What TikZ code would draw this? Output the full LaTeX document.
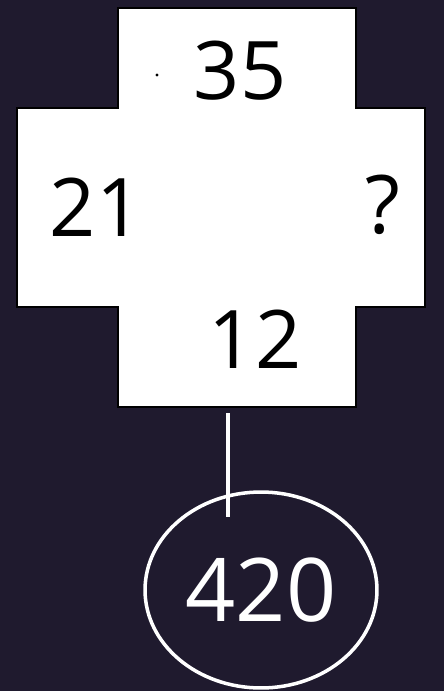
\documentclass[tikz,border=0pt]{standalone}
\usepackage{fontspec}
\setmainfont{Open Sans}
\definecolor{boardbg}{RGB}{31,26,46}
\usetikzlibrary{shapes.geometric, positioning}
\tikzset{
	crossboard/.style={draw=black, fill=white, line width=1.2pt},
	digit/.style={font=\fontsize{46}{50}\selectfont, text=black, inner sep=0pt},
	answer/.style={ellipse, draw=white, line width=2pt, minimum width=4.64cm, minimum height=3.92cm, font=\fontsize{50}{54}\selectfont, text=white},
	link/.style={draw=white, line width=2pt},
}

\begin{document}
\begin{tikzpicture}[x=0.02cm, y=-0.02cm]
		\fill[boardbg] (0,0) rectangle (444,691);
		\useasboundingbox (0,0) rectangle (444,691);
		% the cross
		\draw[crossboard] (118,8) -- (356,8) -- (356,108) -- (425,108) -- (425,307) -- (356,307) -- (356,407) -- (118,407) -- (118,307) -- (17,307) -- (17,108) -- (118,108) -- cycle;
		\fill[black] (157,75) circle (1.6);
		\node[digit] (top) at (240,71) {35};
		\node[digit] (left) at (96,207) {21};
		\node[digit] (right) at (383,205) {?};
		\node[digit] (bottom) at (255,339) {12};
		% result below
		\node[answer] (result) at (261,590) {420};
		\coordinate (linetop) at (228,413);
		\coordinate (lineend) at (228,517);
		\draw[link] (linetop) -- (lineend);
	\end{tikzpicture}
\end{document}
